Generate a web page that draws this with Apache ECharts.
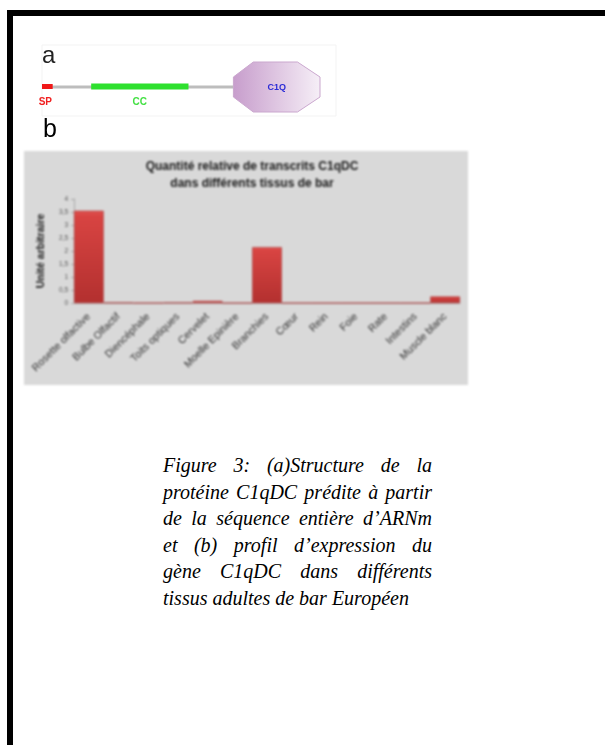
<!DOCTYPE html>
<html>
<head>
<meta charset="utf-8">
<script src="https://cdn.jsdelivr.net/npm/echarts@6/dist/echarts.min.js"></script>
<style>
  html, body { margin: 0; padding: 0; background: #fff; }
  body { width: 605px; height: 745px; position: relative; overflow: hidden; }
  .frame-top { position: absolute; left: 7px; top: 10px; width: 598px; height: 6px; background: #000; }
  .frame-left { position: absolute; left: 7px; top: 10px; width: 6px; height: 735px; background: #000; }
  #diagram { position: absolute; left: 30px; top: 40px; width: 310px; height: 110px; filter: blur(0.35px); }
  #chart { position: absolute; left: 24px; top: 151px; width: 444px; height: 234px; filter: blur(0.8px); }
  .caption {
    position: absolute; left: 163px; top: 452px; width: 269px;
    font-family: "Liberation Serif", "Times New Roman", serif; font-style: italic;
    font-size: 20px; line-height: 26.6px; color: #000;
  }
  .caption div { text-align: justify; text-align-last: justify; white-space: nowrap; }
  .caption div.last { text-align-last: left; }
</style>
</head>
<body>
<div class="frame-top"></div>
<div class="frame-left"></div>
<div id="diagram"></div>
<div id="chart"></div>
<div class="caption">
  <div>Figure 3: (a)Structure de la</div>
  <div>protéine C1qDC prédite à partir</div>
  <div>de la séquence entière d’ARNm</div>
  <div>et (b) profil d’expression du</div>
  <div>gène C1qDC dans différents</div>
  <div class="last">tissus adultes de bar Européen</div>
</div>
<script>
// Protein domain layout (residue positions along the sequence)
const proteinLength = 260;
const domainNames = ['SP', 'CC', 'C1Q'];
const domainStart = [0, 46, 179];
const domainEnd = [10, 137, 260];
const domainColors = ['#f01818', '#2ee02e', '#c89fcd'];
const labelColors = ['#f02020', '#44e044', '#2b2bd6'];

// Relative transcript levels per tissue
const tissues = ['Rosette olfactive', 'Bulbe Olfactif', 'Diencéphale', 'Toits optiques',
  'Cervelet', 'Moelle Epinière', 'Branchies', 'Cœur', 'Rein', 'Foie', 'Rate',
  'Intestins', 'Muscle blanc'];
const expression = [3.55, 0.02, 0, 0.02, 0.08, 0, 2.15, 0, 0, 0, 0, 0, 0.25];
const yMin = 0, yMax = 4, yStep = 0.5;

// ---- (a) domain diagram ----
const diagram = echarts.init(document.getElementById('diagram'), null, { renderer: 'canvas' });
const domainData = domainNames.map((n, i) => [domainStart[i], domainEnd[i], i]);
diagram.setOption({
  animation: false,
  grid: { left: 12, top: 22, width: 278, height: 50 },
  xAxis: { type: 'value', min: 0, max: proteinLength, show: false },
  yAxis: { type: 'value', min: 0, max: 1, show: false },
  graphic: [
    { type: 'rect', shape: { x: 12, y: 5, width: 294, height: 71 }, style: { fill: 'none', stroke: '#f3f3f3', lineWidth: 1 } },
    { type: 'text', left: 12, top: 4, style: { text: 'a', font: '24px "Liberation Sans", Arial, sans-serif', fill: '#222' } },
    { type: 'text', left: 13, top: 78, style: { text: 'b', font: '25px "Liberation Sans", Arial, sans-serif', fill: '#000' } }
  ],
  series: [
    {
      // backbone running up to the C1q head
      type: 'custom',
      renderItem: (params, api) => {
        const a = api.coord([0, 0.5]);
        const b = api.coord([domainStart[2], 0.5]);
        return { type: 'line', shape: { x1: a[0], y1: a[1], x2: b[0], y2: b[1] }, style: { stroke: '#bdbdbd', lineWidth: 3 } };
      },
      data: [[0]],
      z: 1
    },
    {
      type: 'custom',
      renderItem: (params, api) => {
        const i = api.value(2);
        const p0 = api.coord([api.value(0), 1]);
        const p1 = api.coord([api.value(1), 0]);
        const mid = api.coord([(api.value(0) + api.value(1)) / 2, 0.5]);
        if (i < 2) {
          const h = i === 0 ? 5 : 6;
          return {
            type: 'group',
            children: [
              { type: 'rect', shape: { x: p0[0], y: mid[1] - h / 2 - 0.5, width: p1[0] - p0[0], height: h }, style: { fill: domainColors[i] } },
              { type: 'text', style: { text: domainNames[i], x: mid[0] + (i === 0 ? -2 : 0), y: mid[1] + 15, align: 'center', verticalAlign: 'middle',
                font: 'bold 10px "Liberation Sans", Arial, sans-serif', fill: labelColors[i] } }
            ]
          };
        }
        const x0 = p0[0], x1 = p1[0], y0 = p0[1], y1 = p1[1];
        const w = x1 - x0, h = y1 - y0;
        const pts = [
          [x0 + 0.23 * w, y0], [x0 + 0.74 * w, y0], [x1, y0 + 0.3 * h], [x1, y0 + 0.7 * h],
          [x0 + 0.74 * w, y1], [x0 + 0.23 * w, y1], [x0, y0 + 0.7 * h], [x0, y0 + 0.3 * h]
        ];
        return {
          type: 'group',
          children: [
            { type: 'polygon', shape: { points: pts }, style: {
              fill: new echarts.graphic.LinearGradient(0, 0, 1, 0, [
                { offset: 0, color: '#c79dcc' }, { offset: 1, color: '#f6eff7' }]),
              stroke: '#caa7ce', lineWidth: 1 } },
            { type: 'text', style: { text: domainNames[i], x: mid[0], y: mid[1] + 1, align: 'center', verticalAlign: 'middle',
              font: 'bold 9px "Liberation Sans", Arial, sans-serif', fill: labelColors[i] } }
          ]
        };
      },
      data: domainData,
      z: 2
    }
  ]
});

// ---- (b) expression bar chart ----
const chart = echarts.init(document.getElementById('chart'), null, { renderer: 'canvas' });
chart.setOption({
  animation: false,
  backgroundColor: '#d9d9d9',
  title: {
    text: 'Quantité relative de transcrits C1qDC\ndans différents tissus de bar',
    left: 223, top: 2, textAlign: 'center',
    textStyle: { fontFamily: '"Liberation Sans", Arial, sans-serif', fontSize: 12, fontWeight: 'bold', color: '#1a1a1a', lineHeight: 17 }
  },
  grid: { left: 50, top: 48, width: 386, height: 104 },
  xAxis: {
    type: 'category', data: tissues,
    axisLine: { lineStyle: { color: '#b0a0a0', width: 1 } },
    axisTick: { show: false },
    axisLabel: { interval: 0, rotate: 45, margin: 12, fontSize: 10.5, color: '#333',
      fontFamily: '"Liberation Sans", Arial, sans-serif' },
    splitLine: { show: false }
  },
  yAxis: {
    type: 'value', min: yMin, max: yMax, interval: yStep,
    name: 'Unité arbitraire', nameLocation: 'middle', nameRotate: 90, nameGap: 27,
    nameTextStyle: { fontFamily: '"Liberation Sans", Arial, sans-serif', fontSize: 10.5, fontWeight: 'bold', color: '#1a1a1a' },
    axisLine: { show: true, lineStyle: { color: '#a8a8a8', width: 1 } },
    axisTick: { show: true, length: 3, lineStyle: { color: '#a8a8a8' } },
    axisLabel: { fontSize: 6.5, color: '#555', margin: 6, formatter: v => String(v).replace('.', ','),
      fontFamily: '"Liberation Sans", Arial, sans-serif' },
    splitLine: { show: false }
  },
  series: [{
    type: 'bar', data: expression, barCategoryGap: '0%',
    itemStyle: {
      color: new echarts.graphic.LinearGradient(0, 0, 0, 1, [
        { offset: 0, color: '#e05250' }, { offset: 0.06, color: '#d84442' }, { offset: 1, color: '#b3302f' }]),
      borderColor: '#a83434', borderWidth: 0.6
    }
  }]
});
</script>
</body>
</html>
